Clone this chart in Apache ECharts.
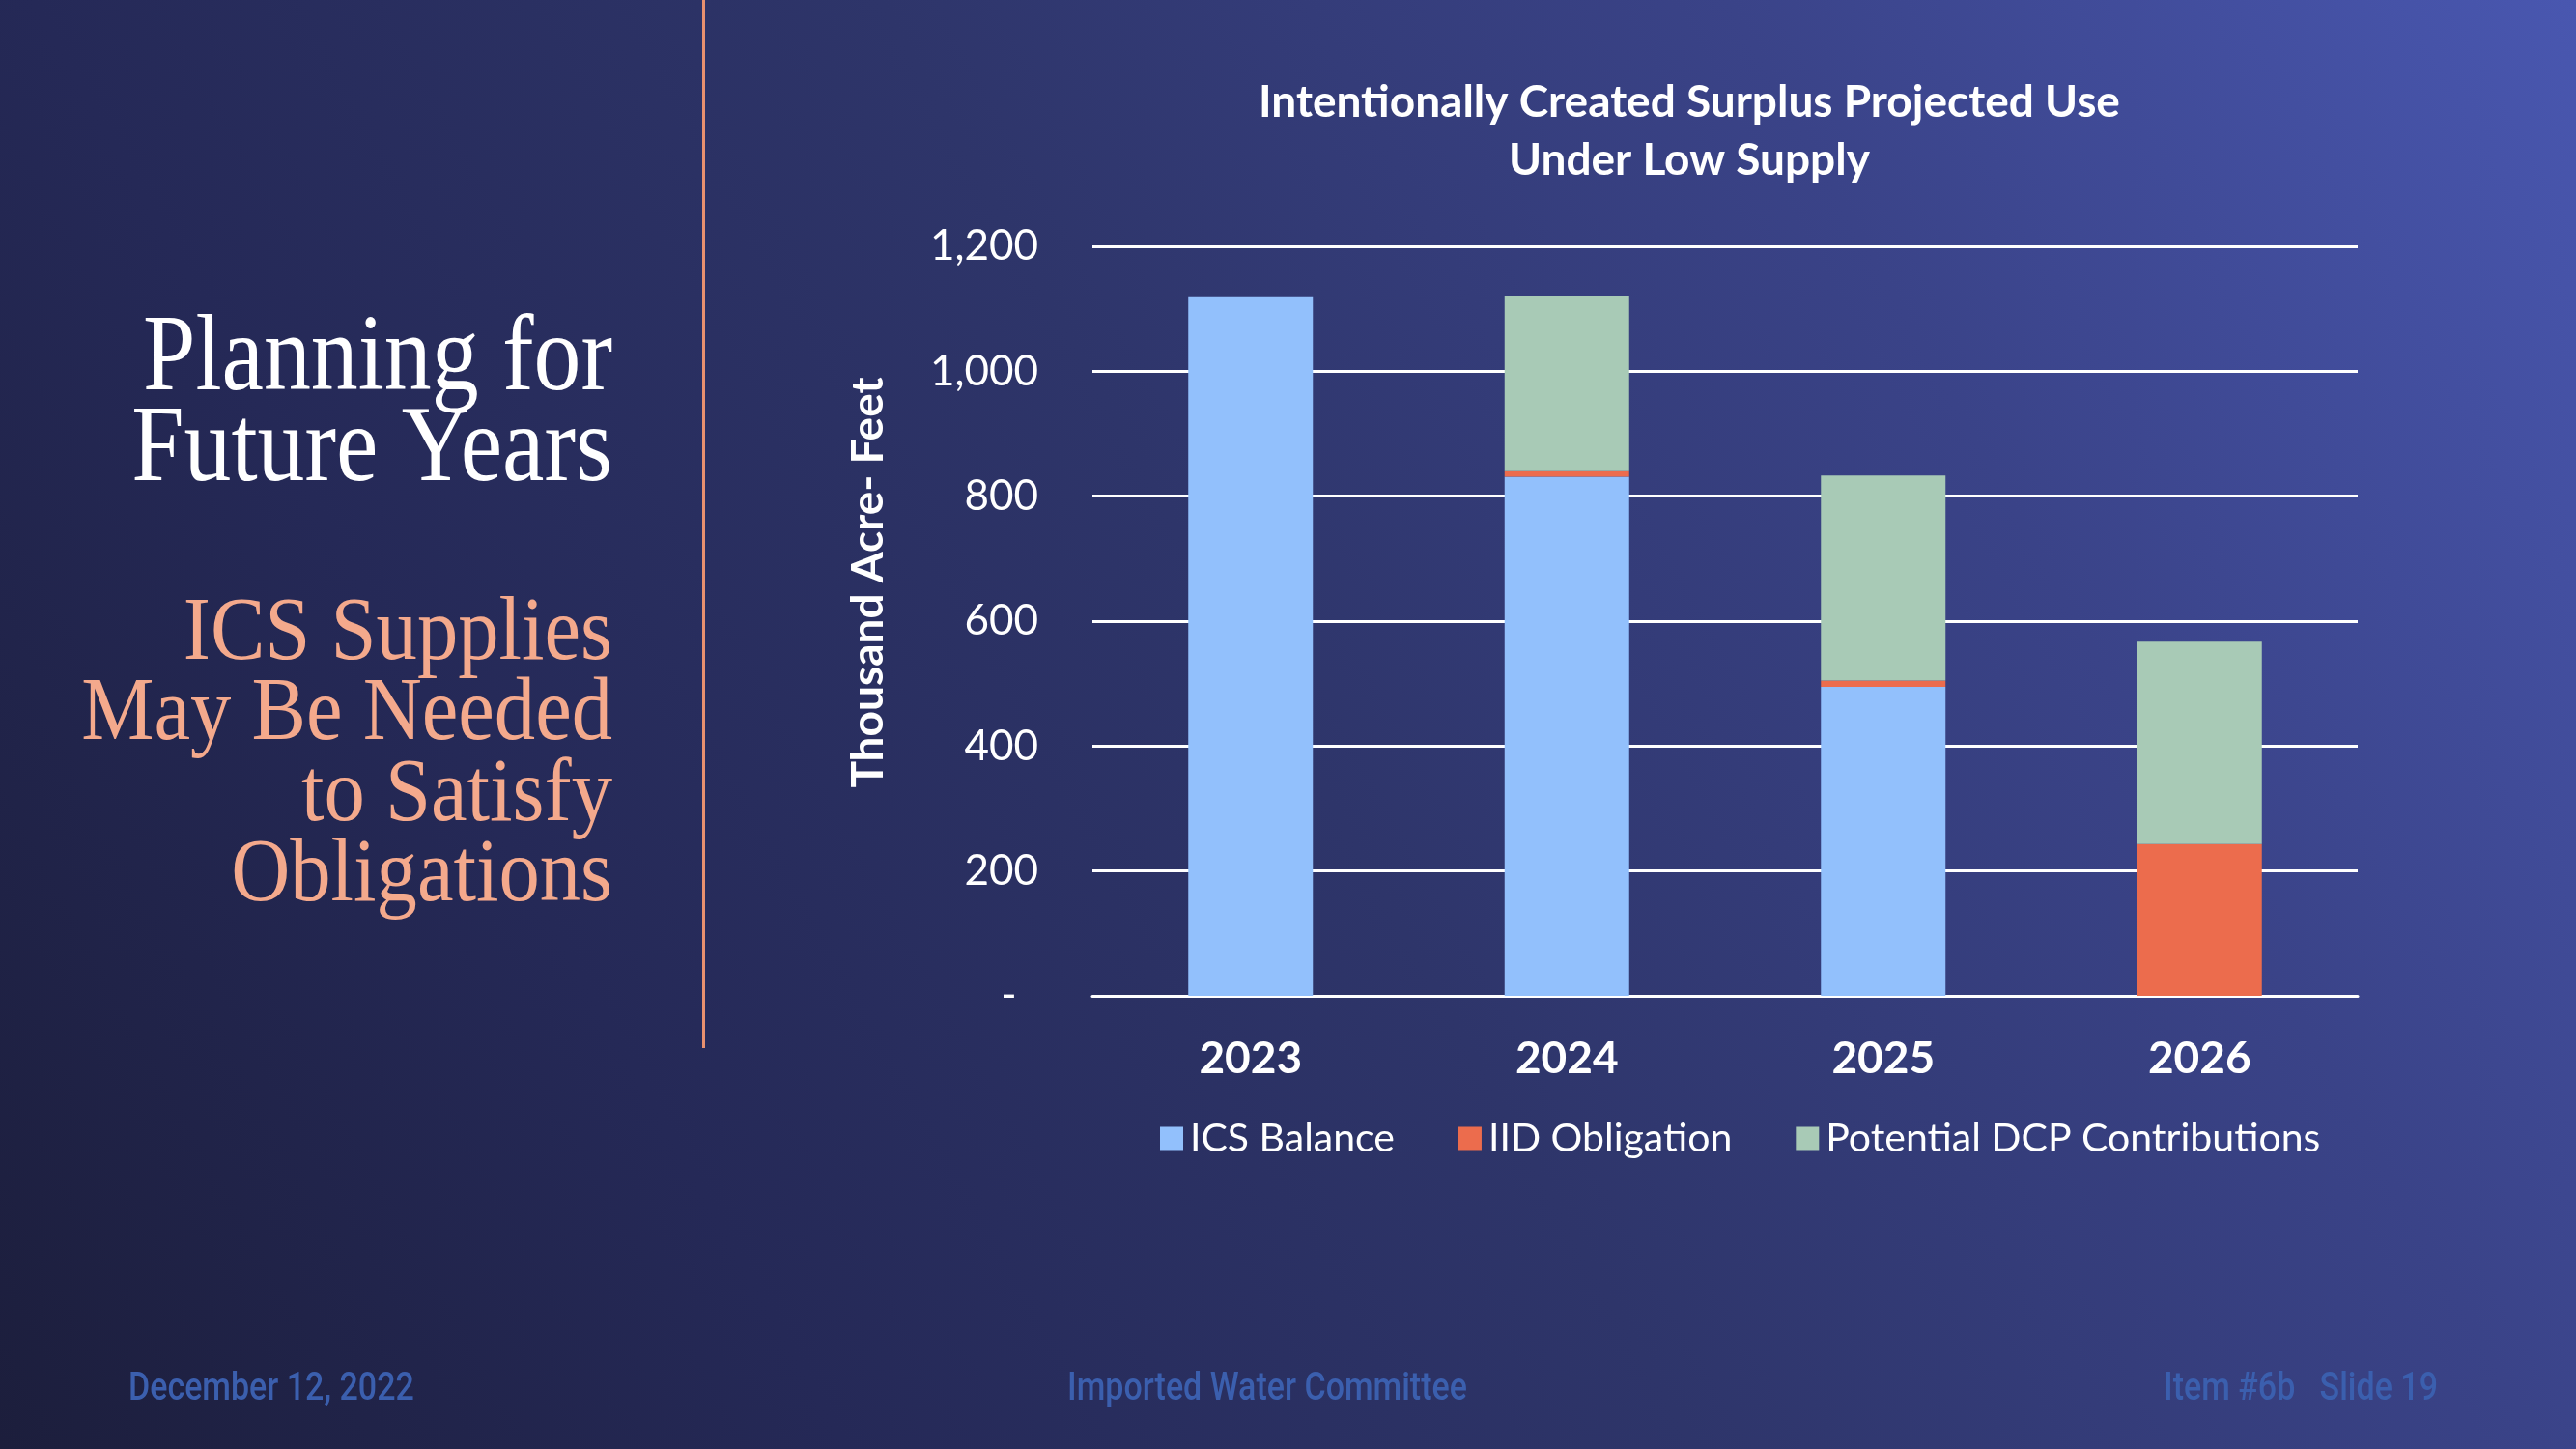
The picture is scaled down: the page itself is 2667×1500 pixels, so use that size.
<!DOCTYPE html>
<html>
<head>
<meta charset="utf-8">
<script src="https://cdn.jsdelivr.net/npm/echarts@6/dist/echarts.min.js"></script>
<style>
html,body{margin:0;padding:0;width:2667px;height:1500px;overflow:hidden;}
#chart{width:2667px;height:1500px;}
</style>
</head>
<body>
<div id="chart"></div>
<script>
const categories = ['2023', '2024', '2025', '2026'];
const icsBalance = [1120, 831, 495, 0];
const iidObligation = [0, 9, 10, 243];
const dcpContributions = [0, 281, 328, 324];
const seriesNames = ['ICS Balance', 'IID Obligation', 'Potential DCP Contributions'];

const chart = echarts.init(document.getElementById('chart'), null, {renderer: 'canvas'});
const sans = 'Lato, "Open Sans", sans-serif';
const serif = '"Liberation Serif", "DejaVu Serif", serif';
const footFont = '500 40px Roboto, sans-serif';

const option = {
  backgroundColor: new echarts.graphic.LinearGradient(0, 1, 1, 0, [
    {offset: 0, color: '#1c1e3c'},
    {offset: 0.25, color: '#252957'},
    {offset: 0.5, color: '#2e356a'},
    {offset: 0.75, color: '#3a4388'},
    {offset: 1, color: '#4957b0'}
  ]),
  title: {
    text: 'Intentionally Created Surplus Projected Use\nUnder Low Supply',
    left: 1744,
    top: 71,
    textAlign: 'center',
    textStyle: {color: '#ffffff', fontFamily: sans, fontWeight: 'bold', fontSize: 46, lineHeight: 60}
  },
  legend: {
    data: seriesNames,
    left: 1196,
    top: 1153,
    itemWidth: 24,
    itemHeight: 24,
    itemGap: 66,
    icon: 'rect',
    textStyle: {color: '#ffffff', fontFamily: sans, fontSize: 41, padding: [0, 0, 0, 2]}
  },
  grid: {left: 1131, right: 226, top: 255, bottom: 469, containLabel: false},
  xAxis: {
    type: 'category',
    data: categories,
    axisLine: {show: true, lineStyle: {color: '#ffffff', width: 3}},
    axisTick: {show: false},
    axisLabel: {color: '#ffffff', fontFamily: sans, fontWeight: 'bold', fontSize: 46, margin: 42}
  },
  yAxis: {
    type: 'value',
    min: 0,
    max: 1200,
    interval: 200,
    name: 'Thousand Acre- Feet',
    nameLocation: 'middle',
    nameRotate: 90,
    nameGap: 209,
    nameTextStyle: {color: '#ffffff', fontFamily: sans, fontWeight: 'bold', fontSize: 46, padding: [0, 0, 0, 80]},
    axisLine: {show: false},
    axisTick: {show: false},
    splitLine: {show: true, lineStyle: {color: '#ffffff', width: 3}},
    axisLabel: {
      color: '#ffffff', fontFamily: sans, fontSize: 44, margin: 56,
      formatter: function (v) { return v === 0 ? '-  ' : v.toLocaleString('en-US'); }
    }
  },
  series: [
    {name: seriesNames[0], type: 'bar', stack: 'total', data: icsBalance, barWidth: 129, itemStyle: {color: '#92c0fc'}},
    {name: seriesNames[1], type: 'bar', stack: 'total', data: iidObligation, barWidth: 129, itemStyle: {color: '#ec6c4d'}},
    {name: seriesNames[2], type: 'bar', stack: 'total', data: dcpContributions, barWidth: 129, itemStyle: {color: '#a8cab6'}}
  ],
  graphic: [
    {type: 'rect', shape: {x: 727, y: 0, width: 3, height: 1085}, style: {fill: '#e8906f'}, silent: true},
    {type: 'text', x: 634, y: 373, scaleX: 0.865, style: {text: 'Planning for', fill: '#ffffff', font: '113px ' + serif, textAlign: 'right', textVerticalAlign: 'middle'}},
    {type: 'text', x: 634, y: 467, scaleX: 0.865, style: {text: 'Future Years', fill: '#ffffff', font: '113px ' + serif, textAlign: 'right', textVerticalAlign: 'middle'}},
    {type: 'text', x: 634, y: 657, scaleX: 0.9, style: {text: 'ICS Supplies', fill: '#f4a98c', font: '94px ' + serif, textAlign: 'right', textVerticalAlign: 'middle'}},
    {type: 'text', x: 634, y: 740, scaleX: 0.9, style: {text: 'May Be Needed', fill: '#f4a98c', font: '94px ' + serif, textAlign: 'right', textVerticalAlign: 'middle'}},
    {type: 'text', x: 634, y: 824, scaleX: 0.9, style: {text: 'to Satisfy', fill: '#f4a98c', font: '94px ' + serif, textAlign: 'right', textVerticalAlign: 'middle'}},
    {type: 'text', x: 634, y: 907, scaleX: 0.9, style: {text: 'Obligations', fill: '#f4a98c', font: '94px ' + serif, textAlign: 'right', textVerticalAlign: 'middle'}},
    {type: 'text', x: 133, y: 1439, scaleX: 0.85, style: {text: 'December 12, 2022', fill: '#3b5fae', font: footFont, textAlign: 'left', textVerticalAlign: 'middle'}},
    {type: 'text', x: 1312, y: 1439, scaleX: 0.85, style: {text: 'Imported Water Committee', fill: '#3b5fae', font: footFont, textAlign: 'center', textVerticalAlign: 'middle'}},
    {type: 'text', x: 2524, y: 1439, scaleX: 0.85, style: {text: 'Item #6b   Slide 19', fill: '#3b5fae', font: footFont, textAlign: 'right', textVerticalAlign: 'middle'}}
  ]
};
chart.setOption(option);
</script>
</body>
</html>
